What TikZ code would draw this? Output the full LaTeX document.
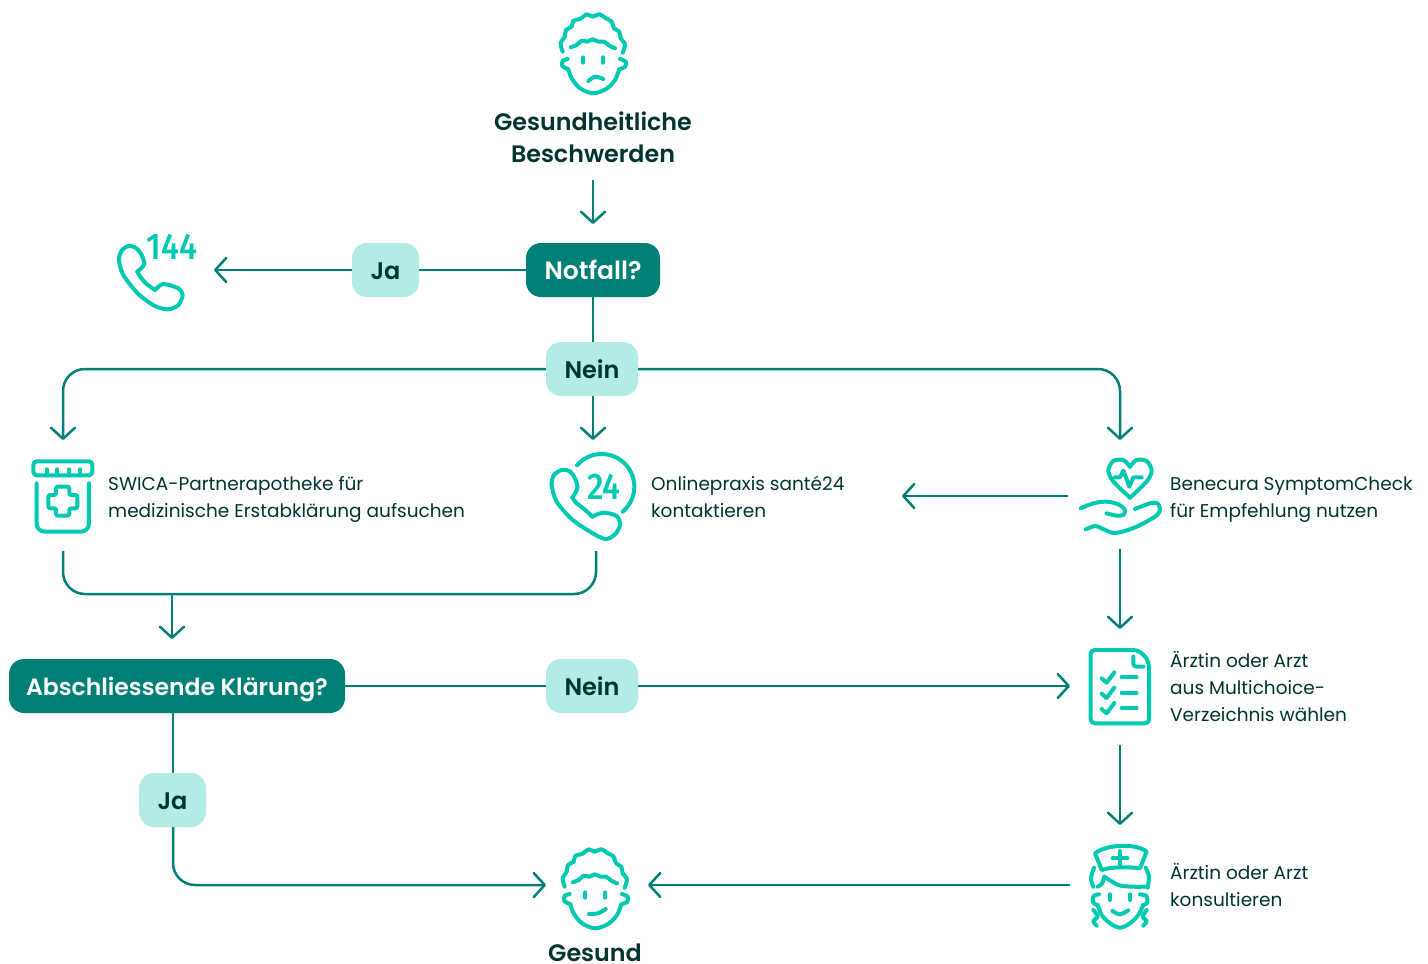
\documentclass[tikz,border=0pt]{standalone}
\usepackage{fontspec}
\setmainfont[BoldFont={Poppins SemiBold}]{Poppins}
\newfontfamily\digitfont{Fira Sans Medium}
\usetikzlibrary{arrows.meta}
\definecolor{teal}{HTML}{007F76}
\definecolor{mint}{HTML}{B2ECE4}
\definecolor{icon}{HTML}{00C9B1}
\definecolor{ink}{HTML}{00352F}
\tikzset{
  x=1pt,y=-1pt,
  flow/.style={draw=teal,line width=2.5pt,line join=round,rounded corners=22pt},
  arrowed/.style={flow,-{Straight Barb[length=11pt,width=24pt,line width=2.5pt,round]}},
  darkbox/.style={fill=teal,rounded corners=15pt,text=white,font=\fontsize{#1}{28}\selectfont\bfseries,minimum height=54pt,inner sep=0pt,anchor=center,text height=20pt,text depth=2pt},
  lightbox/.style={fill=mint,rounded corners=15pt,text=ink,font=\fontsize{24}{28}\selectfont\bfseries,minimum height=54pt,inner sep=0pt,anchor=center,text height=20pt,text depth=2pt},
  title/.style={text=ink,font=\fontsize{23.8}{32}\selectfont\bfseries,align=center,inner sep=0pt},
  body/.style={text=ink,font=\fontsize{18.5}{27}\selectfont,align=left,anchor=west,inner sep=0pt},
  ic/.style={draw=icon,line width=4pt,line cap=round,line join=round},
  icscope/.style={shift={(#1)},x=0.3333pt,y=-0.3333pt},
  digits/.style={text=icon,inner sep=0pt,font=\fontsize{#1}{#1}\selectfont\digitfont}
}
\newcommand{\facecommon}{%
  \draw[ic] plot[smooth] coordinates {(98,155)(92,130)(104,110)(108,90)(125,80)(130,62)(150,57)(170,43)(188,50)(208,43)(228,55)(245,65)(252,85)(268,95)(272,115)(285,133)(278,158)};
  \draw[ic] plot[smooth] coordinates {(122,142)(140,135)(155,122)(172,125)(188,118)(205,125)(222,125)(238,137)(255,145)};
  \draw[ic] (160,172)--(160,188) (220,172)--(220,188);
  \draw[ic] plot[smooth] coordinates {(113,177)(98,183)(97,198)(115,208)};
  \draw[ic] plot[smooth] coordinates {(270,177)(287,185)(286,200)(268,208)};
  \draw[ic] plot[smooth] coordinates {(115,208)(125,235)(150,265)(190,280)(230,266)(255,240)(268,208)};
}
\begin{document}
\begin{tikzpicture}
\useasboundingbox (0,0) rectangle (1428,964);
% boxes
\node[title] (top) at (593,137) {Gesundheitliche\\Beschwerden};
\node[darkbox=25,minimum width=134pt] (notfall) at (593,270) {Notfall?};
\node[lightbox,minimum width=67pt] (ja1) at (385.5,270) {Ja};
\node[lightbox,minimum width=92pt] (nein1) at (592,369) {Nein};
\node[darkbox=23.5,minimum width=336pt] (abs) at (177,686) {Abschliessende Klärung?};
\node[lightbox,minimum width=92pt] (nein2) at (592,686) {Nein};
\node[lightbox,minimum width=67pt] (ja2) at (172.5,800) {Ja};
\node[title,anchor=base] (gesund) at (595,961) {Gesund};
\node[body] (t1) at (108,499) {\strut SWICA-Partnerapotheke für\\medizinische Erstabklärung aufsuchen\strut};
\node[body] (t2) at (651,499) {\strut Onlinepraxis santé24\\kontaktieren\strut};
\node[body] (t3) at (1170,499) {\strut Benecura SymptomCheck\\für Empfehlung nutzen\strut};
\node[body] (t4) at (1170,689) {\strut Ärztin oder Arzt\\aus Multichoice-\\Verzeichnis wählen\strut};
\node[body] (t5) at (1170,888) {\strut Ärztin oder Arzt\\konsultieren\strut};
% connector ends
\coordinate (topend) at (593,180);
\coordinate (notin) at (593,224);
\coordinate (callend) at (214,270);
\coordinate (potin) at (63,440);
\coordinate (onlin) at (593,440);
\coordinate (benin) at (1120,440);
\coordinate (potout) at (63,551);
\coordinate (onlout) at (596,551);
\coordinate (mergeout) at (172,594);
\coordinate (absin) at (172,639);
\coordinate (benleft) at (1068,496);
\coordinate (onlright) at (902,496);
\coordinate (bendown) at (1120,549);
\coordinate (listin) at (1120,629);
\coordinate (listleft) at (1070,686);
\coordinate (listdown) at (1120,745);
\coordinate (nursein) at (1120,825);
\coordinate (nurseleft) at (1070,885);
\coordinate (gesr) at (648,885);
\coordinate (gesl) at (546,885);
\coordinate (absb) at (173,713);
\coordinate (jat) at (173,773);
\coordinate (jab) at (173,827);
\coordinate (notb) at (593,297);
\coordinate (neint) at (593,342);
\coordinate (neinb) at (593,396);
% connectors
\draw[arrowed] (topend) -- (notin);
\draw[flow] (notfall) -- (ja1);
\draw[arrowed] (ja1) -- (callend);
\draw[flow] (notb) -- (neint);
\draw[arrowed] (nein1.west) -| (potin);
\draw[arrowed] (neinb) -- (onlin);
\draw[arrowed] (nein1.east) -| (benin);
\draw[flow] (potout) |- (mergeout -| onlout) -- (onlout);
\draw[arrowed] (mergeout) -- (absin);
\draw[flow] (abs) -- (nein2);
\draw[arrowed] (nein2) -- (listleft);
\draw[arrowed] (benleft) -- (onlright);
\draw[arrowed] (bendown) -- (listin);
\draw[arrowed] (listdown) -- (nursein);
\draw[arrowed] (nurseleft) -- (gesr);
\draw[flow] (absb) -- (jat);
\draw[arrowed] (jab) |- (gesl);
% sad face
\begin{scope}[icscope={530,0}]
 \facecommon
 \draw[ic] plot[smooth] coordinates {(175,243)(195,230)(220,237)};
\end{scope}
% happy face
\begin{scope}[icscope={532,835}]
 \facecommon
 \draw[ic] plot[smooth] coordinates {(171,237)(198,235)(221,222)};
\end{scope}
% phone 144
\begin{scope}[icscope={100,220}]
 \draw[ic] plot[smooth] coordinates {(112,155)(133,132)(122,100)(105,82)(85,78)(65,92)(57,120)(70,165)(115,222)(165,258)(205,268)(235,255)(248,225)(235,205)(190,192)(165,210)};
 \draw[ic] plot[smooth] coordinates {(165,210)(140,192)(122,172)(112,155)};
\end{scope}
\node[digits=37] (n144) at (172,247) {\scalebox{0.88}[1]{144}};
% pot
\begin{scope}[icscope={20,450}]
 \draw[ic,rounded corners=3.5pt] (40,34) rectangle (217,76);
 \draw[ic] (80,58)--(80,76) (112,58)--(112,76) (146,58)--(146,76) (180,58)--(180,76);
 \draw[ic,rounded corners=8pt] (50,100) -- (50,245) -- (207,245) -- (207,100);
 \draw[ic,rounded corners=2pt] (108,110)--(148,110)--(148,135)--(172,135)--(172,175)--(148,175)--(148,197)--(108,197)--(108,175)--(85,175)--(85,135)--(108,135)--cycle;
\end{scope}
% phone 24
\begin{scope}[icscope={540,445}]
 \draw[ic] plot[smooth] coordinates {(97,158)(112,130)(105,100)(88,78)(65,75)(42,90)(35,120)(50,170)(95,222)(150,260)(195,282)(225,268)(240,240)(230,213)(190,203)(157,215)};
 \draw[ic] plot[smooth] coordinates {(157,215)(130,190)(110,175)(97,158)};
 \draw[ic] plot[smooth,samples=30,domain=139:-50] ({185+98*cos(\x)},{125-98*sin(\x)});
\end{scope}
\node[digits=37] (n24) at (604,487) {\scalebox{0.88}[1]{24}};
% heart hand
\begin{scope}[icscope={1070,450}]
 \draw[ic] plot[smooth] coordinates {(180,50)(160,30)(130,33)(115,60)(125,88)(150,115)(180,143)};
 \draw[ic] plot[smooth] coordinates {(180,50)(200,30)(230,33)(245,60)(235,88)(210,115)(180,143)};
 \draw[ic] (135,82)--(150,82)--(160,62)--(178,110)--(190,82)--(215,82);
 \draw[ic] plot[smooth] coordinates {(32,175)(70,160)(110,155)(145,163)(165,180)(160,195)(140,197)(110,190)};
 \draw[ic] plot[smooth] coordinates {(195,177)(240,160)(262,160)(270,180)(255,200)(200,230)(150,247)(125,248)(95,235)(75,228)(47,238)};
\end{scope}
% checklist
\begin{scope}[icscope={1075,640}]
 \draw[ic,rounded corners=4pt] (175,30)--(47,30)--(47,250)--(222,250)--(222,80);
 \draw[ic] (175,30) .. controls (200,32) and (220,55) .. (222,80);
 \draw[ic,rounded corners=3pt] (175,50)--(175,80)--(205,80);
 \foreach \d in {0,46,92}{
  \draw[ic] (80,115+\d)--(95,128+\d)--(118,97+\d);
  \draw[ic] (140,112+\d)--(185,112+\d);
 }
\end{scope}
% nurse
\begin{scope}[icscope={1075,835}]
 \draw[ic] (60,55) .. controls (90,30) and (180,22) .. (215,50) -- (195,100) .. controls (160,95) and (110,95) .. (80,105) -- cycle;
 \draw[ic] (135,48)--(135,92) (113,70)--(157,70);
 \draw[ic] plot[smooth] coordinates {(57,98)(48,130)(55,155)};
 \draw[ic] plot[smooth] coordinates {(212,98)(222,125)(218,158)};
 \draw[ic] plot[smooth] coordinates {(68,155)(82,145)(88,125)};
 \draw[ic] plot[smooth] coordinates {(88,125)(130,150)(170,155)(215,155)};
 \draw[ic] plot[smooth] coordinates {(72,178)(56,183)(55,203)(68,210)};
 \draw[ic] plot[smooth] coordinates {(195,178)(214,183)(217,203)(205,210)};
 \draw[ic] plot[smooth] coordinates {(68,210)(80,240)(105,265)(135,278)(165,265)(190,240)(205,210)};
 \draw[ic] (105,178)--(105,195) (165,178)--(165,195);
 \draw[ic] plot[smooth] coordinates {(112,228)(135,238)(160,226)};
 \draw[ic] plot[smooth] coordinates {(55,225)(68,245)(55,258)(65,272)};
 \draw[ic] plot[smooth] coordinates {(215,225)(203,245)(215,258)(205,272)};
\end{scope}
\end{tikzpicture}
\end{document}
